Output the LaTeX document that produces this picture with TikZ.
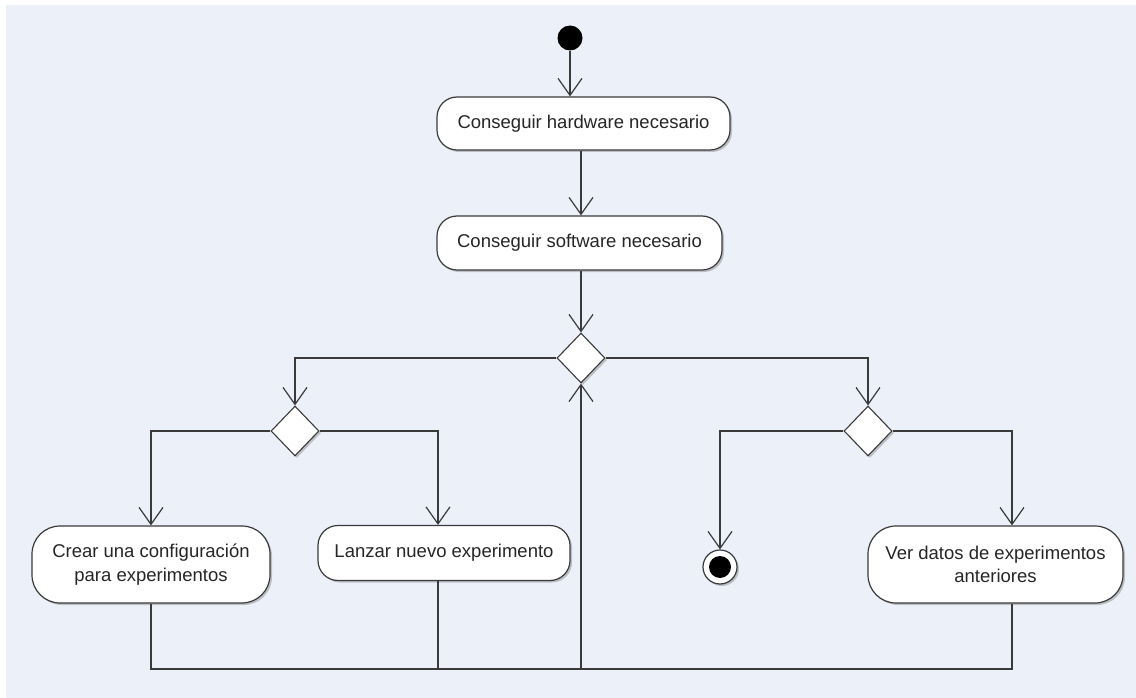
\documentclass[tikz,border=0pt]{standalone}
\usepackage{fontspec}
\setmainfont{Liberation Sans}
\usetikzlibrary{arrows.meta,shapes.geometric,shadows}

\definecolor{panel}{HTML}{ECF0F9}
\definecolor{ink}{HTML}{3A3A3A}

\begin{document}
\begin{tikzpicture}[x=1pt,y=-1pt,
  every node/.style={font=\fontsize{18.5}{23.5}\selectfont, text=black!85},
  boxshadow/.style={drop shadow={shadow xshift=2pt, shadow yshift=-2pt, opacity=0.35, fill=black!60}},
  activity/.style={draw=ink, line width=1.2pt, fill=white, rounded corners=20pt,
                   align=center, inner sep=0pt, boxshadow},
  tallactivity/.style={activity, rounded corners=28pt},
  decision/.style={diamond, draw=ink, line width=1.1pt, fill=white, inner sep=0pt,
                   minimum width=48pt, minimum height=50pt, boxshadow},
  flow/.style={draw=ink, line width=1.2pt},
  arr/.style={flow, -{Straight Barb[length=17pt, width=24pt, line width=1.2pt]}}
]
% page and panel
\fill[white] (0,0) rectangle (1136,698);
\fill[panel] (6,5) rectangle (1136,698);

% initial node
\node[circle, fill=black, inner sep=0pt, minimum size=25pt] (start) at (570,38) {};

% activities
\node[activity, minimum width=293pt, minimum height=53pt] (hw) at (583.5,123.5) {Conseguir hardware necesario};
\node[activity, minimum width=285pt, minimum height=54pt] (sw) at (579.5,243) {Conseguir software necesario};
\node[tallactivity, minimum width=238pt, minimum height=77pt] (crear) at (151,564.5) {Crear una configuración\\para experimentos};
\node[activity, minimum width=252pt, minimum height=55pt] (lanzar) at (444,553) {Lanzar nuevo experimento};
\node[tallactivity, minimum width=255pt, minimum height=77pt] (ver) at (995.5,564.5) {Ver datos de experimentos\\anteriores};

% decisions
\node[decision] (dmain) at (581,358) {};
\node[decision] (dleft) at (295,431) {};
\node[decision] (dright) at (868,431) {};

% final node
\node[circle, draw=ink, line width=1.2pt, fill=white, inner sep=0pt, minimum size=34pt, boxshadow] (final) at (720,567) {};
\node[circle, fill=black, inner sep=0pt, minimum size=22pt] (finaldot) at (final.center) {};

% column positions of connectors
\coordinate (xlanzar) at (438,0);
\coordinate (xver) at (1012,0);
\coordinate (merge) at (581,669);

% control flow
\draw[arr] (start) -- (start |- hw.north);
\draw[arr] (hw.south -| dmain) -- (sw.north -| dmain);
\draw[arr] (sw.south -| dmain) -- (dmain.north);
\draw[arr] (dmain.west) -| (dleft.north);
\draw[arr] (dmain.east) -| (dright.north);
\draw[arr] (dleft.west) -| (crear.north);
\draw[arr] (dleft.east) -| (lanzar.north -| xlanzar);
\draw[arr] (dright.west) -| (final.north);
\draw[arr] (dright.east) -| (ver.north -| xver);

% loop back to the main decision
\draw[flow] (crear.south) |- (merge);
\draw[flow] (lanzar.south -| xlanzar) -- (merge -| xlanzar);
\draw[flow] (ver.south -| xver) |- (merge);
\draw[arr] (merge) -- (dmain.south);
\end{tikzpicture}
\end{document}
